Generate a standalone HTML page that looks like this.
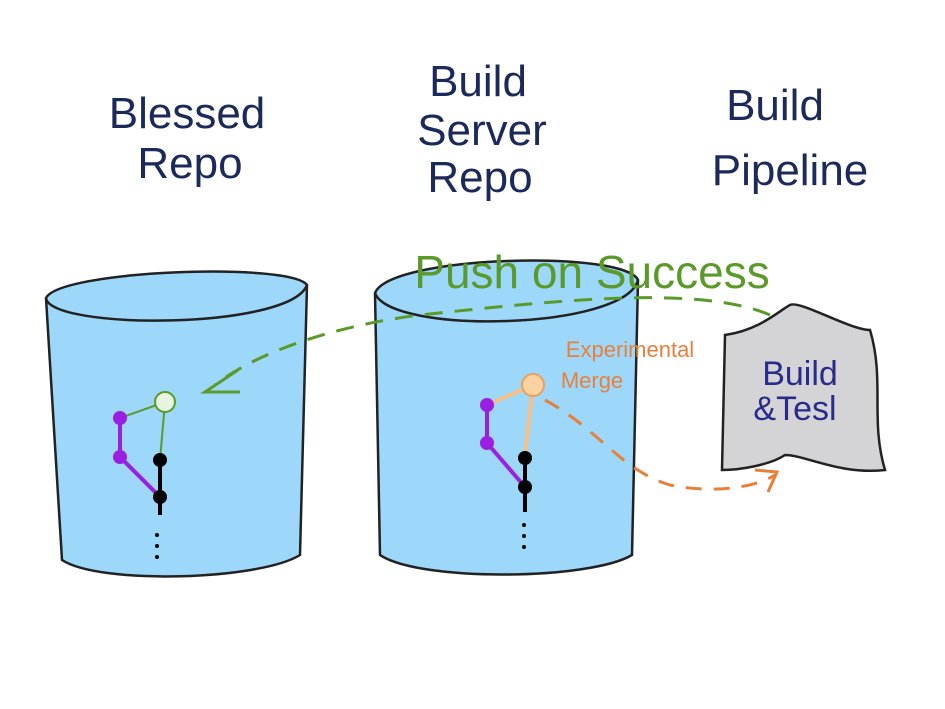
<!DOCTYPE html>
<html><head><meta charset="utf-8"><style>
body{margin:0;background:#fff}
svg{display:block}
text{font-family:"Liberation Sans",sans-serif}
</style></head><body>
<svg width="945" height="709" viewBox="0 0 945 709" xmlns="http://www.w3.org/2000/svg">
<!-- left cylinder -->
<path d="M46,298 C60,270 290,262 307,285 L300,555 C260,580 100,585 62,560 Z" fill="#9dd8fa" stroke="#222" stroke-width="2.5"/>
<path d="M46,298 C50,330 290,330 307,285" fill="none" stroke="#222" stroke-width="2.5"/>
<!-- middle cylinder -->
<path d="M375,293 C390,255 625,250 638,280 L632,555 C590,580 420,582 380,555 Z" fill="#9dd8fa" stroke="#222" stroke-width="2.5"/>
<path d="M375,293 C390,335 625,330 638,280" fill="none" stroke="#222" stroke-width="2.5"/>
<!-- build & test -->
<path d="M725,335 C760,330 780,310 790,305 C800,300 850,330 870,330 C885,380 870,420 885,470 C840,475 805,455 785,455 C770,465 740,470 722,470 Z" fill="#d4d4d6" stroke="#222" stroke-width="2.5"/>
<text x="800" y="385" font-size="34" fill="#2a2a8a" text-anchor="middle">Build</text>
<text x="795" y="420" font-size="34" fill="#2a2a8a" text-anchor="middle">&amp;Tesl</text>
<!-- titles -->
<g fill="#1b2a5a" font-size="44" text-anchor="middle">
<text x="187" y="128">Blessed</text>
<text x="190" y="178">Repo</text>
<text x="478" y="96">Build</text>
<text x="482" y="145">Server</text>
<text x="480" y="192">Repo</text>
<text x="775" y="120">Build</text>
<text x="790" y="185">Pipeline</text>
</g>
<text x="592" y="288" font-size="46" fill="#5a9a2a" text-anchor="middle">Push on Success</text>
<!-- green dashed -->
<path d="M770,315 C700,285 560,300 420,315 C340,325 260,350 215,385" fill="none" stroke="#5a9a2a" stroke-width="3" stroke-dasharray="18,12"/>
<path d="M238,370 L205,392 L240,392" fill="none" stroke="#5a9a2a" stroke-width="3"/>
<!-- orange label -->
<text x="630" y="357" font-size="22" fill="#e8803a" text-anchor="middle">Experimental</text>
<text x="592" y="388" font-size="22" fill="#e8803a" text-anchor="middle">Merge</text>
<path d="M545,400 C600,430 620,470 670,485 C720,495 760,485 775,475" fill="none" stroke="#e8803a" stroke-width="3" stroke-dasharray="16,12"/>
<path d="M755,470 L777,472 L768,492" fill="none" stroke="#e8803a" stroke-width="3"/>
<!-- left graph -->
<line x1="120" y1="418" x2="120" y2="457" stroke="#9a1fe0" stroke-width="4"/>
<line x1="120" y1="457" x2="160" y2="497" stroke="#9a1fe0" stroke-width="4"/>
<line x1="120" y1="418" x2="165" y2="402" stroke="#5a9a2a" stroke-width="2"/>
<line x1="165" y1="402" x2="160" y2="460" stroke="#5a9a2a" stroke-width="2"/>
<line x1="160" y1="460" x2="160" y2="515" stroke="#000" stroke-width="4"/>
<circle cx="165" cy="402" r="10" fill="#e6f4e0" stroke="#5a9a2a" stroke-width="2"/>
<circle cx="120" cy="418" r="7" fill="#9a1fe0"/>
<circle cx="120" cy="457" r="7" fill="#9a1fe0"/>
<circle cx="160" cy="460" r="7" fill="#000"/>
<circle cx="160" cy="497" r="7" fill="#000"/>
<g fill="#000"><circle cx="157" cy="535" r="2"/><circle cx="157" cy="546" r="2"/><circle cx="157" cy="557" r="2"/></g>
<!-- middle graph -->
<line x1="487" y1="405" x2="487" y2="443" stroke="#9a1fe0" stroke-width="4"/>
<line x1="487" y1="443" x2="525" y2="487" stroke="#9a1fe0" stroke-width="4"/>
<line x1="487" y1="405" x2="533" y2="385" stroke="#f5c08a" stroke-width="4"/>
<line x1="533" y1="385" x2="525" y2="455" stroke="#f5c08a" stroke-width="4"/>
<line x1="525" y1="458" x2="525" y2="512" stroke="#000" stroke-width="4"/>
<circle cx="533" cy="385" r="11" fill="#fbd2a0" stroke="#e8a060" stroke-width="2"/>
<circle cx="487" cy="405" r="7" fill="#9a1fe0"/>
<circle cx="487" cy="443" r="7" fill="#9a1fe0"/>
<circle cx="525" cy="458" r="7" fill="#000"/>
<circle cx="525" cy="487" r="7" fill="#000"/>
<g fill="#000"><circle cx="524" cy="525" r="2"/><circle cx="524" cy="536" r="2"/><circle cx="524" cy="547" r="2"/></g>
</svg>
</body></html>
